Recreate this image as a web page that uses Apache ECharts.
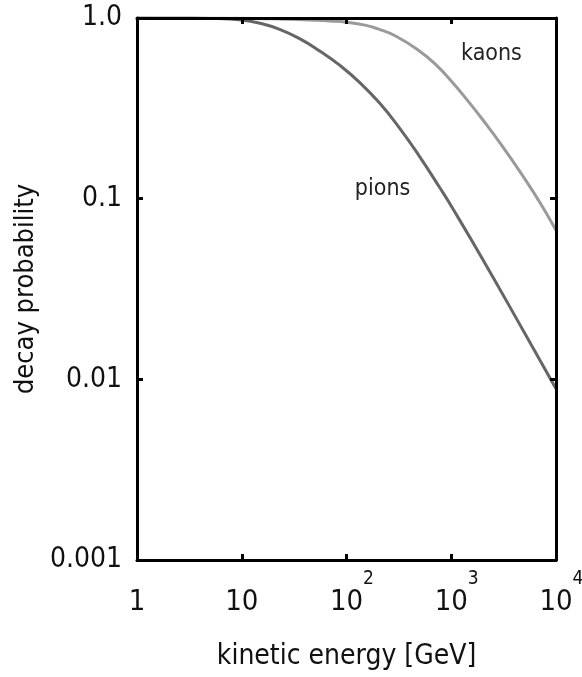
<!DOCTYPE html>
<html>
<head>
<meta charset="utf-8">
<script src="https://cdn.jsdelivr.net/npm/echarts@6/dist/echarts.min.js"></script>
<style>
  html, body { margin: 0; padding: 0; background: #fff; }
  #chart { width: 582px; height: 677px; }
</style>
</head>
<body>
<div id="chart"></div>
<script>
// kinetic energy [GeV] and decay probability
var pionEnergy = [1, 3, 5, 10, 15, 23, 36, 55, 86, 134, 207, 321, 499, 773, 1000, 2000, 5000, 10000];
var pionProb   = [1.0, 0.999, 0.995, 0.974, 0.935, 0.866, 0.767, 0.659, 0.548, 0.439, 0.338, 0.246, 0.171, 0.1156, 0.091, 0.0461, 0.0181, 0.00887];

var kaonEnergy = [1, 10, 20, 30, 50, 70, 100, 150, 200, 300, 500, 700, 1000, 1500, 2000, 3000, 5000, 7000, 10000];
var kaonProb   = [1.0, 0.996, 0.99, 0.983, 0.972, 0.962, 0.947, 0.913, 0.87, 0.79, 0.655, 0.557, 0.448, 0.338, 0.2733, 0.1991, 0.1296, 0.0955, 0.0669];

// tick labels
var xTickLabels = ['1', '10', '10^2', '10^3', '10^4'];
var yTickLabels = ['0.001', '0.01', '0.1', '1.0'];

// where the curve names sit
var kaonLabelAt = [2420, 0.63];
var pionLabelAt = [221, 0.113];

var FONT = "'Liberation Sans Narrow', 'DejaVu Sans Condensed', sans-serif";

function pairs(xs, ys) {
    var out = [];
    for (var i = 0; i < xs.length; i++) out.push([xs[i], ys[i]]);
    return out;
}

function xLabel(v) {
    var s = xTickLabels[Math.round(Math.log10(v))];
    if (s.indexOf('^') < 0) return '{pad| }{base|' + s + '}{pad| }';
    var p = s.split('^');
    // transparent copy of the exponent in front keeps "10" centred on the tick
    return '{pad|' + p[1] + '}{base|' + p[0] + '}{sup|' + p[1] + '}';
}

function yLabel(v) {
    return yTickLabels[Math.round(Math.log10(v)) + 3];
}

var dom = document.getElementById('chart');
var myChart = echarts.init(dom);

var axisLine = { show: true, lineStyle: { color: '#000', width: 3 } };
var axisTick = { show: true, inside: true, length: 6, lineStyle: { color: '#000', width: 3 } };

var option = {
    animation: false,
    backgroundColor: '#fff',
    grid: { left: 137, right: 26, top: 18, bottom: 117, outerBoundsMode: 'none', containLabel: false },
    xAxis: [
        {
            type: 'log', logBase: 10, min: 1, max: 10000, interval: 1,
            position: 'bottom', z: 10,
            axisLine: axisLine, axisTick: axisTick, splitLine: { show: false },
            axisLabel: {
                margin: 10, color: '#111', fontFamily: FONT, fontSize: 29,
                formatter: xLabel,
                rich: {
                    base: { fontSize: 29, lineHeight: 30, fontFamily: FONT, color: '#111', verticalAlign: 'bottom' },
                    sup: { fontSize: 19, lineHeight: 19, fontFamily: FONT, color: '#111', verticalAlign: 'top' },
                    pad: { fontSize: 19, lineHeight: 47, fontFamily: FONT, color: 'transparent' }
                }
            },
            name: 'kinetic energy [GeV]', nameLocation: 'middle', nameGap: 83,
            nameTextStyle: { fontFamily: FONT, fontSize: 28, color: '#111' }
        },
        {
            type: 'log', logBase: 10, min: 1, max: 10000, interval: 1,
            position: 'top', z: 10,
            axisLine: axisLine, axisTick: axisTick, splitLine: { show: false },
            axisLabel: { show: false }
        }
    ],
    yAxis: [
        {
            type: 'log', logBase: 10, min: 0.001, max: 1, interval: 1,
            position: 'left', z: 10,
            axisLine: axisLine, axisTick: axisTick, splitLine: { show: false },
            axisLabel: { margin: 15, color: '#111', fontFamily: FONT, fontSize: 28, formatter: yLabel },
            name: 'decay probability', nameLocation: 'middle', nameGap: 86, nameRotate: 90,
            nameTextStyle: { fontFamily: FONT, fontSize: 27, color: '#111' }
        },
        {
            type: 'log', logBase: 10, min: 0.001, max: 1, interval: 1,
            position: 'right', z: 10,
            axisLine: axisLine, axisTick: axisTick, splitLine: { show: false },
            axisLabel: { show: false }
        }
    ],
    series: [
        {
            name: 'kaons', type: 'line', smooth: true, showSymbol: false, z: 2,
            lineStyle: { color: '#9a9a9a', width: 3 },
            data: pairs(kaonEnergy, kaonProb),
            markPoint: {
                symbol: 'circle', symbolSize: 0, silent: true,
                label: { show: true, position: 'inside', formatter: 'kaons', fontFamily: FONT, fontSize: 23, color: '#222' },
                data: [{ coord: kaonLabelAt }]
            }
        },
        {
            name: 'pions', type: 'line', smooth: true, showSymbol: false, z: 3,
            lineStyle: { color: '#666', width: 3 },
            data: pairs(pionEnergy, pionProb),
            markPoint: {
                symbol: 'circle', symbolSize: 0, silent: true,
                label: { show: true, position: 'inside', formatter: 'pions', fontFamily: FONT, fontSize: 23, color: '#222' },
                data: [{ coord: pionLabelAt }]
            }
        }
    ]
};

if (option && typeof option === 'object') {
    myChart.setOption(option, true);
}
</script>
</body>
</html>
